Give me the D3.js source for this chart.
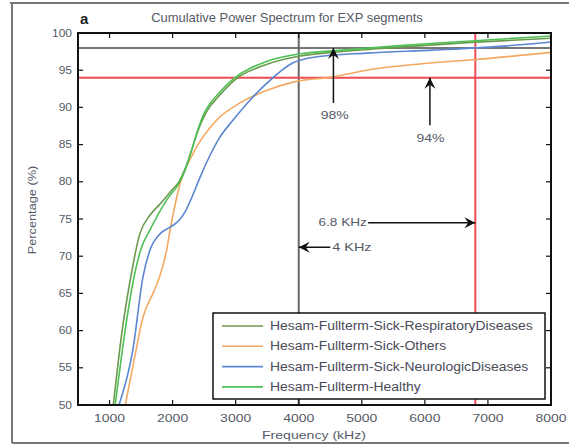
<!DOCTYPE html>
<html><head><meta charset="utf-8">
<script src="https://cdn.jsdelivr.net/npm/d3@7"></script>
<style>body{margin:0;background:#fff}svg{display:block;font-family:"Liberation Sans",Arial,sans-serif}</style>
</head><body><svg id="c" width="569" height="446"></svg>
<script>
const seriesNames = ["Hesam-Fullterm-Sick-RespiratoryDiseases","Hesam-Fullterm-Sick-Others","Hesam-Fullterm-Sick-NeurologicDiseases","Hesam-Fullterm-Healthy"];
const seriesColors = ["#6b9a4e","#f5a862","#5b86d1","#4fc055"];
const respFreq = [1060,1200,1320,1480,1640,1800,1990,2100,2200,2300,2400,2500,2600,2700,2960,3500,4020,4540,5600,6670,8000];
const respPct  = [50,60,66.4,73,75.5,77,78.9,80,81.8,84.2,86.8,88.8,90.2,91.2,93.5,95.8,96.9,97.4,98.1,98.7,99.3];
const otherFreq = [1250,1400,1530,1700,1800,1900,1960,2120,2330,2700,3070,3500,3910,4540,5080,6130,6760,8000];
const otherPct  = [50,56.5,61.8,65.2,67.4,70.6,73.5,79.8,83.9,88.3,90.6,92.3,93.4,94.1,95.0,96.0,96.4,97.4];
const neuroFreq = [1150,1370,1530,1640,1800,1960,2100,2200,2300,2430,2590,2750,2960,3230,3500,3910,4290,5080,6130,7190,8000];
const neuroPct  = [50,57.4,67.2,70.8,73,73.9,74.8,76,77.8,80.5,83.5,86,88.3,91.0,93.3,96.0,96.8,97.3,97.7,98.2,98.8];
const healthyFreq = [1090,1230,1370,1500,1640,1910,2100,2200,2300,2400,2500,2600,2700,2960,3500,4020,4540,5600,6670,8000];
const healthyPct  = [50,59,66.4,71,73.5,77.6,79.8,81.6,84.2,87,89.2,90.6,91.6,93.8,96.2,97.2,97.6,98.3,98.9,99.6];
const xTicks = [1000,2000,3000,4000,5000,6000,7000,8000];
const yTicks = [50,55,60,65,70,75,80,85,90,95,100];
const refPct = [98,94];          // horizontal reference lines
const refFreq = [4000,6800];     // vertical reference lines
const titleText = "Cumulative Power Spectrum for EXP segments";

const svg = d3.select("#c");
const L=78,R=551,T=33,B=405;
const x = d3.scaleLinear().domain([500,8000]).range([L,R]);
const y = d3.scaleLinear().domain([50,100]).range([B,T]);
const txt="#555a66";

function label(parent, px, py, str, size, sx, anchor, fill, weight){
  return parent.append("text").attr("transform",`translate(${px},${py}) scale(${sx},1)`)
    .attr("text-anchor",anchor||"start").attr("font-size",size).attr("fill",fill||txt)
    .attr("font-weight",weight||"normal").text(str);
}

// outer figure frame
svg.append("path").attr("d","M10,3 H569 M12,3 V443 M12,443 H569").attr("stroke","#777").attr("stroke-width",2).attr("fill","none");

svg.append("defs").append("clipPath").attr("id","cp").append("rect").attr("x",L).attr("y",T).attr("width",R-L).attr("height",B-T);
svg.select("defs").append("marker").attr("id","ah").attr("viewBox","-12 -6 13 12").attr("refX",0).attr("refY",0)
  .attr("markerWidth",13).attr("markerHeight",12).attr("markerUnits","userSpaceOnUse").attr("orient","auto")
  .append("path").attr("d","M0,0 L-11,-5.5 L-7,0 L-11,5.5 Z").attr("fill","#111");

const g = svg.append("g").attr("clip-path","url(#cp)");
// reference lines
g.append("line").attr("x1",L).attr("x2",R).attr("y1",y(refPct[0])).attr("y2",y(refPct[0])).attr("stroke","#777").attr("stroke-width",2);
g.append("line").attr("x1",x(refFreq[0])).attr("x2",x(refFreq[0])).attr("y1",T).attr("y2",B).attr("stroke","#666").attr("stroke-width",2);
g.append("line").attr("x1",L).attr("x2",R).attr("y1",y(refPct[1])).attr("y2",y(refPct[1])).attr("stroke","#ee4b55").attr("stroke-width",2);
g.append("line").attr("x1",x(refFreq[1])).attr("x2",x(refFreq[1])).attr("y1",T).attr("y2",B).attr("stroke","#ee4b55").attr("stroke-width",2);

const series = [[respFreq,respPct],[otherFreq,otherPct],[neuroFreq,neuroPct],[healthyFreq,healthyPct]];
const line = d3.line().x(d=>x(d[0])).y(d=>y(d[1])).curve(d3.curveMonotoneX);
[1,2,0,3].forEach(i=>{
  const pts = series[i][0].map((f,k)=>[f,series[i][1][k]]);
  g.append("path").attr("d",line(pts)).attr("fill","none").attr("stroke",seriesColors[i]).attr("stroke-width",1.6);
});

// axes box
svg.append("rect").attr("x",L).attr("y",T).attr("width",R-L).attr("height",B-T).attr("fill","none").attr("stroke","#111").attr("stroke-width",2);
xTicks.forEach(t=>{
  svg.append("line").attr("x1",x(t)).attr("x2",x(t)).attr("y1",B).attr("y2",B-5).attr("stroke","#111").attr("stroke-width",1.2);
  svg.append("line").attr("x1",x(t)).attr("x2",x(t)).attr("y1",T).attr("y2",T+5).attr("stroke","#111").attr("stroke-width",1.2);
  label(svg, x(t), B+17, t, 10, 1.4, "middle");
});
yTicks.forEach(t=>{
  svg.append("line").attr("x1",L).attr("x2",L+5).attr("y1",y(t)).attr("y2",y(t)).attr("stroke","#111").attr("stroke-width",1.2);
  svg.append("line").attr("x1",R).attr("x2",R-5).attr("y1",y(t)).attr("y2",y(t)).attr("stroke","#111").attr("stroke-width",1.2);
  label(svg, L-6, y(t)+3.5, t, 10, 1.2, "end");
});

// annotations
function arrow(x1,y1,x2,y2){
  svg.append("line").attr("x1",x1).attr("y1",y1).attr("x2",x2).attr("y2",y2).attr("stroke","#111").attr("stroke-width",1.5).attr("marker-end","url(#ah)");
}
arrow(x(4550),y(90.6),x(4550),y(98));
label(svg, x(4570), y(88.4), "98%", 10, 1.4, "middle");
arrow(x(6080),y(87.6),x(6080),y(94));
label(svg, x(6090), y(85.4), "94%", 10, 1.4, "middle");
arrow(x(5100),y(74.5),x(6800),y(74.5));
label(svg, x(5080), y(74.5)+3.5, "6.8 KHz", 10, 1.36, "end");
arrow(x(4500),y(71.2),x(4000),y(71.2));
label(svg, x(4530), y(71.2)+3.5, "4 KHz", 10, 1.45, "start");

// legend
const lg = svg.append("g");
lg.append("rect").attr("x",213).attr("y",313).attr("width",332).attr("height",86).attr("fill","#fff").attr("stroke","#111").attr("stroke-width",1.5);
seriesNames.forEach((n,i)=>{
  const yy = 326 + i*20.3;
  lg.append("line").attr("x1",222).attr("x2",263).attr("y1",yy).attr("y2",yy).attr("stroke",seriesColors[i]).attr("stroke-width",1.6);
  label(lg, 270, yy+4, n, 12, 1.16, "start", "#4a4a58");
});

// titles
label(svg, 287, 22, titleText, 12, 1.08, "middle");
label(svg, 80, 24, "a", 15, 1, "start", "#222", "bold");
label(svg, 314, 439, "Frequency (kHz)", 11, 1.28, "middle");
svg.append("text").attr("transform","translate(36,210) rotate(-90) scale(1.16,1)").attr("text-anchor","middle").attr("font-size",11).attr("fill",txt).text("Percentage (%)");
</script></body></html>
